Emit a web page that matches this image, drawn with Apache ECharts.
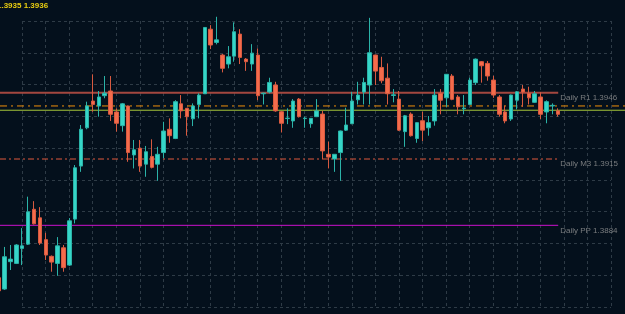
<!DOCTYPE html>
<html><head><meta charset="utf-8">
<script src="https://cdn.jsdelivr.net/npm/echarts@6/dist/echarts.min.js"></script>
<style>html,body{margin:0;padding:0;background:#04101c;overflow:hidden}#c{width:625px;height:314px}</style>
</head><body><div id="c"></div>
<script>
// ---- data ----
const open = [1.38595,1.38542,1.38670,1.38662,1.38732,1.38752,1.38915,1.38875,1.38773,1.38695,
1.38662,1.38735,1.38654,1.38869,1.39117,1.39296,1.39421,1.39398,1.39446,1.39468,
1.39370,1.39306,1.39398,1.39169,1.39200,1.39126,1.39162,1.39126,1.39180,1.39289,
1.39246,1.39408,1.39387,1.39338,1.39405,1.39455,1.39757,1.39695,1.39636,1.39594,
1.39631,1.39734,1.39617,1.39594,1.39636,1.39455,1.39463,1.39496,1.39371,1.39339,
1.39328,1.39430,1.39339,1.39315,1.39348,1.39360,1.39172,1.39150,1.39180,1.39285,
1.39315,1.39427,1.39463,1.39496,1.39636,1.39578,1.39528,1.39447,1.39430,1.39278,
1.39360,1.39246,1.39329,1.39296,1.39328,1.39457,1.39436,1.39538,1.39440,1.39385,
1.39405,1.39507,1.39605,1.39597,1.39519,1.39440,1.39370,1.39337,1.39425,1.39477,
1.39457,1.39415,1.39440,1.39370,1.39398,1.39375];
const close = [1.38534,1.38693,1.38682,1.38748,1.38744,1.38903,1.38847,1.38757,1.38701,1.38668,
1.38744,1.38642,1.38861,1.39109,1.39289,1.39398,1.39405,1.39440,1.39458,1.39359,
1.39317,1.39408,1.39180,1.39193,1.39117,1.39184,1.39111,1.39172,1.39281,1.39259,
1.39418,1.39375,1.39348,1.39398,1.39449,1.39765,1.39683,1.39707,1.39574,1.39628,
1.39745,1.39625,1.39605,1.39645,1.39446,1.39458,1.39508,1.39375,1.39317,1.39341,
1.39421,1.39348,1.39341,1.39340,1.39375,1.39188,1.39159,1.39172,1.39281,1.39309,
1.39421,1.39449,1.39508,1.39647,1.39561,1.39516,1.39455,1.39450,1.39285,1.39352,
1.39259,1.39320,1.39285,1.39320,1.39449,1.39425,1.39546,1.39429,1.39394,1.39388,
1.39519,1.39617,1.39586,1.39538,1.39449,1.39359,1.39328,1.39449,1.39464,1.39463,
1.39436,1.39455,1.39359,1.39418,1.39401,1.39359];
const low = [1.38523,1.38538,1.38631,1.38659,1.38654,1.38748,1.38844,1.38748,1.38678,1.38623,
1.38604,1.38623,1.38650,1.38849,1.39090,1.39289,1.39371,1.39348,1.39434,1.39328,
1.39278,1.39278,1.39137,1.39106,1.39090,1.39067,1.39106,1.39048,1.39153,1.39226,
1.39243,1.39340,1.39259,1.39304,1.39340,1.39454,1.39664,1.39686,1.39555,1.39574,
1.39605,1.39594,1.39562,1.39562,1.39425,1.39405,1.39457,1.39371,1.39274,1.39313,
1.39296,1.39344,1.39296,1.39296,1.39346,1.39150,1.39106,1.39090,1.39048,1.39281,
1.39313,1.39405,1.39405,1.39405,1.39496,1.39504,1.39405,1.39415,1.39281,1.39207,
1.39255,1.39226,1.39234,1.39259,1.39306,1.39359,1.39394,1.39425,1.39359,1.39359,
1.39402,1.39496,1.39507,1.39516,1.39436,1.39348,1.39317,1.39328,1.39382,1.39394,
1.39405,1.39412,1.39337,1.39317,1.39359,1.39348];
const high = [1.38603,1.38739,1.38748,1.38752,1.38827,1.38974,1.38953,1.38925,1.38805,1.38699,
1.38785,1.38748,1.38874,1.39122,1.39309,1.39418,1.39546,1.39468,1.39538,1.39538,
1.39387,1.39412,1.39400,1.39239,1.39239,1.39211,1.39242,1.39207,1.39324,1.39340,
1.39425,1.39449,1.39388,1.39410,1.39457,1.39767,1.39776,1.39815,1.39641,1.39678,
1.39789,1.39757,1.39622,1.39687,1.39667,1.39460,1.39530,1.39511,1.39374,1.39387,
1.39430,1.39435,1.39348,1.39341,1.39430,1.39375,1.39231,1.39173,1.39283,1.39390,
1.39464,1.39511,1.39530,1.39810,1.39638,1.39628,1.39597,1.39477,1.39468,1.39356,
1.39368,1.39321,1.39371,1.39351,1.39477,1.39477,1.39547,1.39547,1.39449,1.39449,
1.39530,1.39620,1.39608,1.39608,1.39539,1.39449,1.39399,1.39451,1.39468,1.39496,
1.39488,1.39468,1.39462,1.39424,1.39410,1.39387];
const levelNames = ['Daily R1', 'Daily M3', 'Daily PP'];
const levelValues = [1.3946, 1.3915, 1.3884];
const quoteLines = [1.39398, 1.39378];
const quoteText = ['1.3935', '1.3936'];

// ---- chart ----
const chart = echarts.init(document.getElementById('c'), null, {renderer: 'canvas'});
const candles = open.map((o, i) => [i, o, close[i], low[i], high[i]]);
const last = open.length - 1;
const X_MIN = 0.231, X_MAX = 106.34;
const levelStyles = [
  {color: '#a4473f', width: 2, type: 'solid'},
  {color: '#e0583c', width: 1, type: [6, 3, 2, 3]},
  {color: '#cc11cc', width: 1, type: 'solid'}
];
const quoteStyles = [
  {color: '#f0900a', width: 1, type: [7, 4, 2, 4]},
  {color: '#a6c63a', width: 1, type: 'solid'}
];
function hLine(v, x0, x1, style) {
  return {
    type: 'line', xAxisIndex: 0, yAxisIndex: 0, z: 1, silent: true,
    showSymbol: false, symbol: 'none', clip: false,
    data: [[x0, v], [x1, v]], lineStyle: style, emphasis: {disabled: true}
  };
}
const series = [];
quoteLines.forEach((v, k) => series.push(hLine(v, X_MIN, X_MAX, quoteStyles[k])));
levelValues.forEach((v, k) => series.push(hLine(v, X_MIN, last, levelStyles[k])));
series.push({
  type: 'candlestick', xAxisIndex: 0, yAxisIndex: 0, z: 3,
  data: candles, encode: {x: 0, y: [1, 2, 3, 4]},
  barWidth: 4, clip: false,
  itemStyle: {color: '#36d6c8', color0: '#f46c4c', borderColor: '#2bb3a8', borderColor0: '#d85a40', borderWidth: 1}
});
series.push({
  type: 'scatter', xAxisIndex: 0, yAxisIndex: 0, z: 4, symbolSize: 0, silent: true,
  data: levelValues.map((v, k) => [last, v, levelNames[k] + ' ' + v.toFixed(4)]),
  label: {show: true, position: 'right', distance: 2, offset: [0, 5],
    formatter: p => p.value[2], color: '#979797', fontSize: 8, fontFamily: 'Liberation Sans'}
});

chart.setOption({
  backgroundColor: '#04101c',
  animation: false,
  title: {
    text: quoteText.join(' '), left: -3, top: 1, padding: 0,
    textStyle: {color: '#e8cc10', fontSize: 8, fontWeight: 'bold', fontFamily: 'Liberation Sans', lineHeight: 10}
  },
  grid: [
    {left: 0, right: 0, top: 0, bottom: 0},
    {left: 22, right: 14, top: 21, bottom: 7}
  ],
  xAxis: [
    {type: 'value', gridIndex: 0, min: X_MIN, max: X_MAX, show: false, splitLine: {show: false}},
    {type: 'value', gridIndex: 1, min: 0, max: 25, interval: 1,
     axisLine: {show: false}, axisTick: {show: false}, axisLabel: {show: false},
     splitLine: {show: true, lineStyle: {color: '#2e3b46', width: 1, type: [3, 3]}}}
  ],
  yAxis: [
    {type: 'value', gridIndex: 0, min: 1.384254, max: 1.398934, show: false, splitLine: {show: false}},
    {type: 'value', gridIndex: 1, min: 0, max: 9, interval: 1,
     axisLine: {show: false}, axisTick: {show: false}, axisLabel: {show: false},
     splitLine: {show: true, lineStyle: {color: '#2e3b46', width: 1, type: [3, 3]}}}
  ],
  series: series
});
</script></body></html>
